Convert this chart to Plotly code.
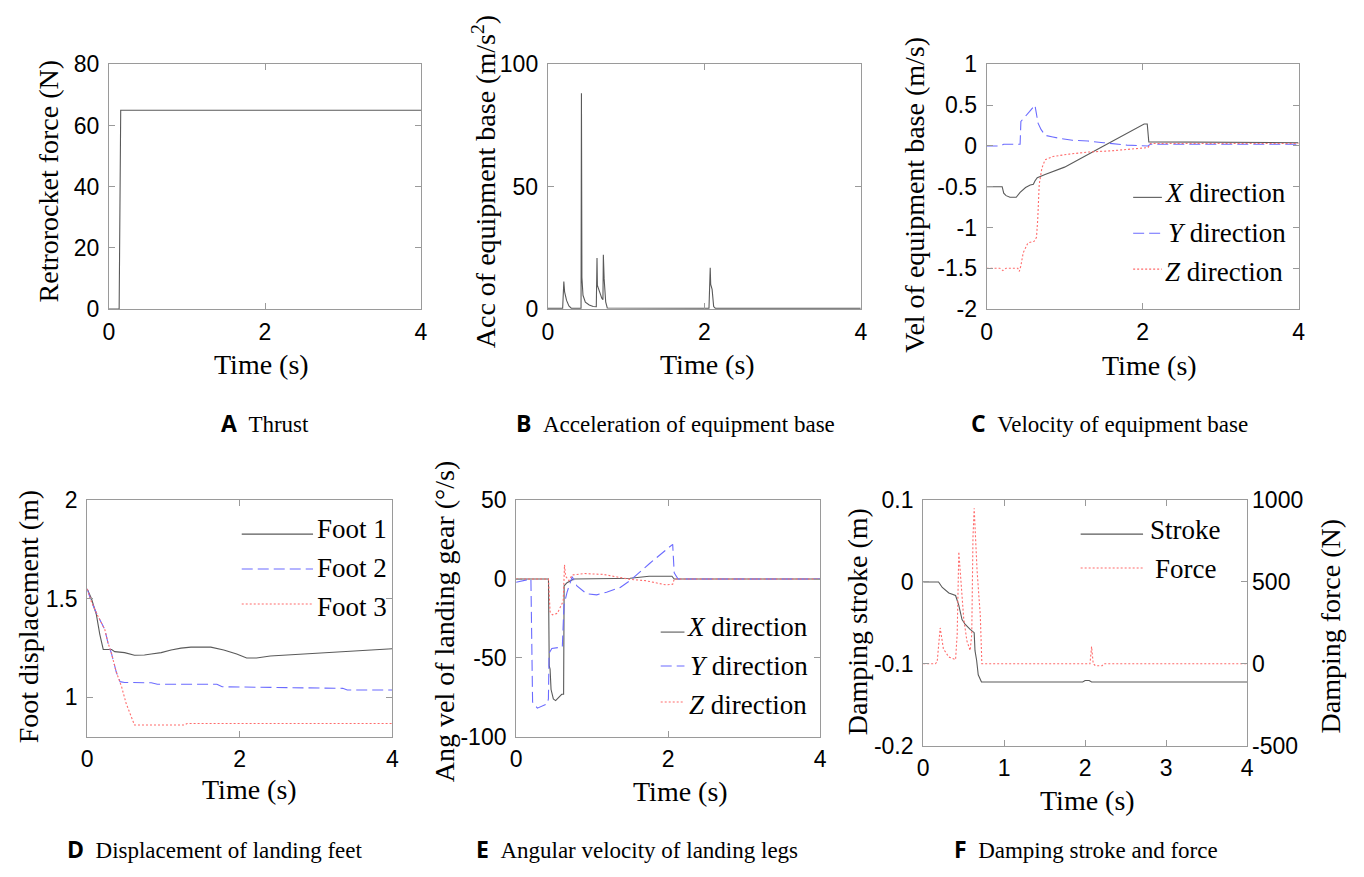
import plotly.graph_objects as go

# ---------------- data ----------------
# A  Thrust
thrust_t = [0.00, 0.13, 0.15, 4.00]
thrust_f = [0, 0, 65, 65]

# B  Acceleration of equipment base
acc_t = [0.00, 0.19, 0.205, 0.215, 0.24, 0.27, 0.30, 0.425, 0.430, 0.436, 0.45, 0.48, 0.53, 0.58,
         0.62, 0.629, 0.634, 0.66, 0.69, 0.705, 0.710, 0.72, 0.74, 0.76, 2.06, 2.076, 2.082, 2.10,
         2.12, 2.14, 4.00]
acc_a = [0.3, 0.3, 11.2, 7.0, 3.5, 1.2, 0.3, 0.3, 88.2, 12.9, 5.6, 2.8, 1.6, 1.0,
         0.9, 20.8, 9.6, 6.9, 4.4, 3.8, 22.2, 12.4, 2.9, 0.4, 0.3, 16.8, 10.0, 8.0,
         1.0, 0.3, 0.3]

# C  Velocity of equipment base
vx_t = [0, 0.20, 0.22, 0.25, 0.30, 0.38, 0.43, 0.50, 0.56, 0.60, 0.62, 0.65, 0.75, 1.00, 1.50,
        2.02, 2.06, 2.08, 4.00]
vx = [-0.50, -0.50, -0.58, -0.61, -0.63, -0.63, -0.57, -0.51, -0.48, -0.47, -0.43, -0.39, -0.35,
      -0.26, 0.00, 0.27, 0.27, 0.05, 0.04]
vy_t = [0, 0.17, 0.22, 0.43, 0.44, 0.47, 0.55, 0.62, 0.66, 0.70, 0.75, 0.85, 0.95, 1.10, 1.30,
        1.50, 1.80, 2.07, 2.10, 4.00]
vy = [0.00, 0.00, 0.02, 0.02, 0.30, 0.33, 0.42, 0.50, 0.28, 0.20, 0.13, 0.11, 0.09, 0.07, 0.06,
      0.04, 0.01, 0.00, 0.02, 0.02]
vz_t = [0, 0.17, 0.21, 0.25, 0.40, 0.42, 0.44, 0.47, 0.53, 0.61, 0.64, 0.656, 0.675, 0.71, 0.75,
        0.85, 1.06, 1.30, 1.60, 1.90, 2.07, 2.10, 4.00]
vz = [-1.50, -1.50, -1.53, -1.50, -1.50, -1.54, -1.47, -1.31, -1.19, -1.17, -1.12, -0.90, -0.47,
      -0.27, -0.17, -0.13, -0.10, -0.075, -0.06, -0.035, -0.02, 0.03, 0.03]

# D  Displacement of landing feet
f1_t = [0, 0.056, 0.12, 0.165, 0.21, 0.32, 0.36, 0.49, 0.62, 0.75, 0.84, 0.97, 1.10, 1.23, 1.36,
        1.62, 1.79, 1.96, 2.09, 2.22, 2.40, 2.61, 2.96, 3.26, 3.48, 3.78, 4.00]
f1 = [1.55, 1.50, 1.42, 1.32, 1.243, 1.243, 1.232, 1.227, 1.214, 1.215, 1.22, 1.227, 1.24, 1.25,
      1.255, 1.255, 1.24, 1.22, 1.20, 1.20, 1.21, 1.215, 1.222, 1.229, 1.235, 1.243, 1.247]
f2_t = [0, 0.05, 0.13, 0.20, 0.23, 0.27, 0.32, 0.38, 0.43, 0.49, 0.84, 0.92, 1.70, 1.77, 2.48,
        3.35, 3.41, 4.00]
f2 = [1.55, 1.49, 1.42, 1.37, 1.345, 1.28, 1.22, 1.13, 1.08, 1.076, 1.074, 1.067, 1.067, 1.054,
      1.051, 1.046, 1.038, 1.038]
f3_t = [0, 0.05, 0.13, 0.20, 0.23, 0.27, 0.32, 0.38, 0.45, 0.51, 0.62, 1.27, 1.31, 4.00]
f3 = [1.55, 1.49, 1.42, 1.37, 1.345, 1.28, 1.22, 1.13, 1.055, 0.97, 0.86, 0.86, 0.868, 0.868]

# E  Angular velocity of landing legs
wx_t = [0, 0.426, 0.436, 0.447, 0.46, 0.49, 0.52, 0.60, 0.625, 0.632, 0.67, 0.717, 0.76, 1.30,
        1.50, 1.75, 2.05, 2.08, 4.00]
wx = [0, 0, -55, -57, -70, -76, -77, -73, -73, -4.3, -2.3, -1.2, 0, 0.3, 0.5, 1.8, 1.8, 0, 0]
wy_t = [0, 0.19, 0.195, 0.217, 0.28, 0.41, 0.425, 0.434, 0.47, 0.608, 0.63, 0.67, 0.717, 0.738,
        0.80, 0.93, 1.06, 1.19, 1.37, 1.50, 1.76, 2.06, 2.08, 2.13, 4.00]
wy = [-2, 0, 0, -78, -81.8, -79, -76, -47, -44, -43, -16.6, -8.4, -1.2, 1.5, -4.3, -9.4, -10,
      -8.4, -5.3, -1.0, 10, 22, 3.9, 0, 0]
wz_t = [0, 0.426, 0.447, 0.478, 0.543, 0.586, 0.620, 0.637, 0.651, 0.695, 0.738, 0.80, 0.89,
        1.15, 1.32, 1.50, 1.70, 1.84, 1.97, 2.06, 2.08, 4.00]
wz = [0, 0, -20.7, -22.7, -21.7, -17.6, -14, 9, 1.8, -1, 2.6, 2.9, 3.5, 2.9, 1.4, -0.2, -1,
      -2.3, -3.7, -3.3, 0, 0]

# F  Damping stroke and force
st_t = [0, 0.19, 0.236, 0.317, 0.40, 0.44, 0.48, 0.52, 0.58, 0.63, 0.64, 0.66, 0.68, 0.72, 1.97,
        2.00, 2.05, 2.08, 4.00]
st = [0, 0, -0.0067, -0.0134, -0.0166, -0.0285, -0.046, -0.052, -0.058, -0.062, -0.084, -0.0957,
      -0.1135, -0.1222, -0.1222, -0.1205, -0.1205, -0.1222, -0.1222]
fo_t = [0, 0.15, 0.173, 0.21, 0.25, 0.317, 0.40, 0.42, 0.44, 0.46, 0.50, 0.54, 0.58, 0.60, 0.615,
        0.63, 0.64, 0.665, 0.69, 0.705, 0.725, 2.06, 2.08, 2.10, 2.13, 2.21, 2.23, 4.00]
fo = [0, 0, 12, 219, 91, 41, 25, 180, 684, 555, 279, 140, 81, 180, 773, 950, 812, 575, 400, 300,
      0, 0, 105, 0, -12, -12, 0, 0]

# tick values / labels
time_ticks = [0, 2, 4]
time_ticks_f = [0, 1, 2, 3, 4]
a_ticks = [0, 20, 40, 60, 80]
b_ticks = [0, 50, 100]
c_ticks = [-2, -1.5, -1, -0.5, 0, 0.5, 1]
c_labels = ["-2", "-1.5", "-1", "-0.5", "0", "0.5", "1"]
d_ticks = [1, 1.5, 2]
e_ticks = [-100, -50, 0, 50]
e_labels = ["-100", "-50", "0", "50"]
f_ticks = [-0.2, -0.1, 0, 0.1]
f_labels = ["-0.2", "-0.1", "0", "0.1"]
f2_ticks = [-500, 0, 500, 1000]
f2_labels = ["-500", "0", "500", "1000"]

# ---------------- styling ----------------
W, H = 1364, 877
GRAY = '#5a5a5a'
BLUE = '#6b6bff'
RED = '#ff6b6b'
AX = '#9a9a9a'
SERIF = 'Liberation Serif, Times New Roman, serif'
SANS = 'Liberation Sans, Arial, sans-serif'
TITLE = 28
TICK = 23
LEG = 27
CAP = 23
DASH = '11px,5px'
DOT = '2px,2px'


def X(p):
    return p / W


def Y(p):
    return 1 - p / H


def axis(box, horizontal, rng, vals, texts, anchor, **kw):
    left, right, top, bottom = box
    dom = [X(left), X(right)] if horizontal else [Y(bottom), Y(top)]
    d = dict(domain=dom, range=rng, tickmode='array', tickvals=vals,
             ticktext=texts if texts is not None else [str(v) for v in vals],
             anchor=anchor, showline=True, linecolor=AX, linewidth=1, mirror='ticks',
             ticks='inside', ticklen=6, tickcolor=AX, tickwidth=1, showgrid=False,
             zeroline=False, tickfont=dict(family=SANS, size=TICK, color='black'),
             ticklabelstandoff=2 if horizontal else 4, fixedrange=True)
    d.update(kw)
    return d


boxes = {
    'A': (104, 419, 53, 305),
    'B': (547, 863, 53, 305),
    'C': (990, 1305, 53, 305),
    'D': (82, 390, 502, 746),
    'E': (515, 822, 502, 746),
    'F': (926, 1253, 502, 755),
}

fig = go.Figure()


def line(x, y, color, dash, xa, ya, name):
    fig.add_trace(go.Scatter(x=x, y=y, mode='lines', name=name, showlegend=False,
                             line=dict(color=color, width=1.1, dash=dash),
                             xaxis=xa, yaxis=ya, hoverinfo='x+y+name'))


line(thrust_t, thrust_f, GRAY, 'solid', 'x', 'y', 'Thrust')
line(acc_t, acc_a, GRAY, 'solid', 'x2', 'y2', 'Acceleration')
line(vx_t, vx, GRAY, 'solid', 'x3', 'y3', 'X direction')
line(vy_t, vy, BLUE, DASH, 'x3', 'y3', 'Y direction')
line(vz_t, vz, RED, DOT, 'x3', 'y3', 'Z direction')
line(f1_t, f1, GRAY, 'solid', 'x4', 'y4', 'Foot 1')
line(f2_t, f2, BLUE, DASH, 'x4', 'y4', 'Foot 2')
line(f3_t, f3, RED, DOT, 'x4', 'y4', 'Foot 3')
line(wx_t, wx, GRAY, 'solid', 'x5', 'y5', 'X direction')
line(wy_t, wy, BLUE, DASH, 'x5', 'y5', 'Y direction')
line(wz_t, wz, RED, DOT, 'x5', 'y5', 'Z direction')
line(st_t, st, GRAY, 'solid', 'x6', 'y6', 'Stroke')
line(fo_t, fo, RED, DOT, 'x6', 'y7', 'Force')

layout = dict(
    width=W, height=H, margin=dict(l=0, r=0, t=0, b=0),
    paper_bgcolor='white', plot_bgcolor='white', showlegend=False,
    xaxis=axis(boxes['A'], True, [0, 4], time_ticks, None, 'y'),
    yaxis=axis(boxes['A'], False, [0, 80], a_ticks, None, 'x'),
    xaxis2=axis(boxes['B'], True, [0, 4], time_ticks, None, 'y2'),
    yaxis2=axis(boxes['B'], False, [0, 100], b_ticks, None, 'x2'),
    xaxis3=axis(boxes['C'], True, [0, 4], time_ticks, None, 'y3'),
    yaxis3=axis(boxes['C'], False, [-2, 1], c_ticks, c_labels, 'x3'),
    xaxis4=axis(boxes['D'], True, [0, 4], time_ticks, None, 'y4'),
    yaxis4=axis(boxes['D'], False, [0.8, 2], d_ticks, None, 'x4'),
    xaxis5=axis(boxes['E'], True, [0, 4], time_ticks, None, 'y5'),
    yaxis5=axis(boxes['E'], False, [-100, 50], e_ticks, e_labels, 'x5'),
    xaxis6=axis(boxes['F'], True, [0, 4], time_ticks_f, None, 'y6'),
    yaxis6=axis(boxes['F'], False, [-0.2, 0.1], f_ticks, f_labels, 'x6'),
    yaxis7=axis(boxes['F'], False, [-500, 1000], f2_ticks, f2_labels, 'x6',
                overlaying='y6', side='right', showline=False, mirror=False),
)
fig.update_layout(**layout)

annotations = []
shapes = []


def text(x, y, s, size, angle=0, anchor='center', family=SERIF):
    annotations.append(dict(x=X(x), y=Y(y), xref='paper', yref='paper', text=s,
                            showarrow=False, textangle=angle, xanchor=anchor,
                            yanchor='middle', font=dict(family=family, size=size, color='black')))


# axis titles
text(43, 173, 'Retrorocket force (N)', TITLE, -90)
text(258, 362, 'Time (s)', TITLE)
text(483, 174, 'Acc of equipment base (m/s<sup>2</sup>)', TITLE, -90)
text(708, 362, 'Time (s)', TITLE)
text(917, 187, 'Vel of equipment base (m/s)', TITLE, -90)
text(1155, 363, 'Time (s)', TITLE)
text(23, 622, 'Foot displacement (m)', TITLE, -90)
text(246, 800, 'Time (s)', TITLE)
text(443, 627, 'Ang vel of landing gear (°/s)', TITLE, -90)
text(681, 802, 'Time (s)', TITLE)
text(860, 627, 'Damping stroke (m)', TITLE, -90)
text(1337, 632, 'Damping force (N)', TITLE, -90)
text(1092, 812, 'Time (s)', TITLE)

# captions
LBL = '<span style="font-family:Open Sans, sans-serif;font-weight:bold">{}</span>\u00a0\u00a0{}'
for lx, ly, letter, cap in [(215, 423, 'A', 'Thrust'),
                            (513, 423, 'B', 'Acceleration of equipment base'),
                            (972, 423, 'C', 'Velocity of equipment base'),
                            (60, 862, 'D', 'Displacement of landing feet'),
                            (472, 862, 'E', 'Angular velocity of landing legs'),
                            (955, 862, 'F', 'Damping stroke and force')]:
    text(lx, ly, LBL.format(letter, cap), CAP, anchor='left')


# manual legends
def legend_item(x0, x1, ly, color, dash, label, tx, ty, anchor):
    shapes.append(dict(type='line', xref='paper', yref='paper', x0=X(x0), x1=X(x1),
                       y0=Y(ly), y1=Y(ly), line=dict(color=color, width=1.1, dash=dash)))
    text(tx, ty, label, LEG, anchor=anchor)


legend_item(1138, 1167, 190, GRAY, 'solid', '<i>X</i> direction', 1231, 185, 'center')
legend_item(1138, 1167, 227, BLUE, DASH, '<i>Y</i> direction', 1233, 227, 'center')
legend_item(1138, 1167, 264, RED, DOT, '<i>Z</i> direction', 1230, 267, 'center')

legend_item(238, 310, 537, GRAY, 'solid', 'Foot 1', 312, 532, 'left')
legend_item(238, 310, 573, BLUE, DASH, 'Foot 2', 312, 572, 'left')
legend_item(238, 310, 609, RED, DOT, 'Foot 3', 312, 612, 'left')

legend_item(661, 685, 638, GRAY, 'solid', '<i>X</i> direction', 749, 633, 'center')
legend_item(661, 685, 673, BLUE, DASH, '<i>Y</i> direction', 750, 673, 'center')
legend_item(661, 685, 710, RED, DOT, '<i>Z</i> direction', 749, 713, 'center')

legend_item(1085, 1148, 537, GRAY, 'solid', 'Stroke', 1191, 533, 'center')
legend_item(1085, 1148, 572, RED, DOT, 'Force', 1191, 573, 'center')

fig.update_layout(annotations=annotations, shapes=shapes)

fig.write_html("out.html", config={'displayModeBar': False},
               post_script="document.body.style.margin='0';document.body.style.overflow='hidden';")
